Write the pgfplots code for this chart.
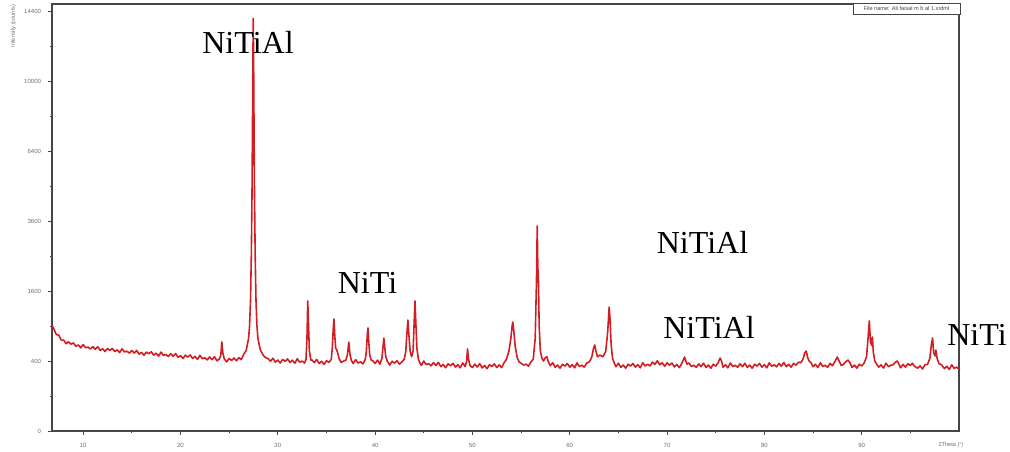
\documentclass[border=0pt]{standalone}
\usepackage{fontspec}
\setsansfont{Liberation Sans}
\newfontfamily\tnr{Liberation Serif}
\usepackage{pgfplots}
\pgfplotsset{compat=1.18}
\definecolor{xrdred}{RGB}{210,30,35}
\definecolor{axgray}{RGB}{70,70,70}
\definecolor{lblgray}{RGB}{110,110,110}

\begin{document}
\begin{tikzpicture}
\useasboundingbox (0,0) rectangle (505pt,225.5pt);
\begin{axis}[
  at={(26pt,10pt)}, anchor=south west,
  scale only axis, width=453.5pt, height=213.5pt,
  xmin=6.8, xmax=100, ymin=0, ymax=14884,
  y coord trafo/.code={\pgfmathparse{sqrt(#1)}},
  y coord inv trafo/.code={\pgfmathparse{(#1)^2}},
  xtick={10,20,...,90}, minor xtick={15,25,...,95},
  ytick={0,400,1600,3600,6400,10000,14400},
  yticklabels={0,400,1600,3600,6400,10000,14400},
  minor ytick={100,900,2500,4900,8100,12100},
  tick pos=left, tick align=outside,
  major tick length=2pt, minor tick length=1pt,
  axis line style={axgray, line width=0.6pt},
  tick style={axgray, line width=0.4pt},
  /pgf/number format/assume math mode=true,
  tick label style={font=\sffamily\fontsize{3}{3}\selectfont, text=lblgray},
  xticklabel style={yshift=-0.5pt},
  scaled ticks=false,
]
\addplot[xrdred, line width=0.8pt, line join=round] coordinates {
(6.8,915)(7.0,848)(7.25,758)(7.5,750)(7.75,675)(8.0,673)(8.25,622)(8.5,649)(8.75,616)(9.0,634)
(9.25,586)(9.5,604)(9.75,564)(10.0,610)(10.25,567)(10.5,575)(10.75,548)(11.0,580)(11.25,546)(11.5,579)
(11.75,530)(12.0,552)(12.25,516)(12.5,555)(12.75,532)(13.0,557)(13.25,515)(13.5,538)(13.75,502)(14.0,551)
(14.25,510)(14.5,520)(14.75,495)(15.0,529)(15.25,496)(15.5,530)(15.75,482)(16.0,505)(16.25,469)(16.5,509)
(16.75,486)(17.0,512)(17.25,470)(17.5,494)(17.75,458)(18.0,508)(18.25,467)(18.5,478)(18.75,453)(19.0,488)
(19.25,455)(19.5,490)(19.75,442)(20.0,465)(20.25,429)(20.5,469)(20.75,446)(21.0,472)(21.25,430)(21.5,454)
(21.75,418)(22.0,468)(22.25,427)(22.5,438)(22.75,413)(23.0,448)(23.25,415)(23.5,450)(23.75,402)(24.0,425)
(24.15,470)(24.25,650)(24.35,500)(24.5,425)(24.75,390)(25.0,429)(25.25,408)(25.5,435)(25.75,403)(26.0,439)
(26.25,416)(26.5,480)(26.75,530)(27.0,700)(27.1,900)(27.2,1400)(27.28,2500)(27.35,4500)(27.4,7500)(27.44,11000)
(27.48,13900)(27.52,11000)(27.56,7500)(27.61,4500)(27.68,2500)(27.76,1400)(27.86,900)(27.96,700)(28.2,540)(28.5,470)
(28.75,440)(29.0,428)(29.25,397)(29.5,433)(29.75,387)(30.0,411)(30.25,377)(30.5,418)(30.75,397)(31.0,424)
(31.25,384)(31.5,409)(31.75,375)(32.0,426)(32.25,387)(32.5,399)(32.75,377)(32.9,420)(33.0,700)(33.08,1380)
(33.16,900)(33.25,520)(33.4,410)(33.5,413)(33.75,382)(34.0,418)(34.25,372)(34.5,396)(34.75,362)(35.0,404)
(35.25,384)(35.5,420)(35.6,560)(35.7,850)(35.77,1024)(35.85,760)(35.95,560)(36.05,540)(36.15,500)(36.3,430)
(36.5,385)(36.75,398)(37.0,410)(37.15,470)(37.3,646)(37.42,480)(37.55,410)(37.75,372)(38.0,416)(38.25,377)
(38.5,390)(38.75,367)(39.0,420)(39.1,520)(39.2,760)(39.27,866)(39.35,650)(39.45,470)(39.6,410)(39.75,403)
(40.0,373)(40.25,410)(40.5,364)(40.7,430)(40.8,560)(40.9,706)(41.0,560)(41.1,450)(41.25,400)(41.5,355)
(41.75,397)(42.0,376)(42.25,404)(42.5,365)(42.75,390)(43.0,420)(43.15,520)(43.28,800)(43.37,1006)(43.46,780)
(43.6,520)(43.75,450)(43.9,520)(44.0,900)(44.1,1380)(44.2,900)(44.3,550)(44.45,420)(44.6,380)(44.75,351)
(45.0,400)(45.25,360)(45.5,371)(45.75,347)(46.0,382)(46.25,350)(46.5,385)(46.75,338)(47.0,361)(47.25,327)
(47.5,368)(47.75,347)(48.0,374)(48.25,334)(48.5,359)(48.75,326)(49.0,378)(49.25,340)(49.4,390)(49.5,549)
(49.6,420)(49.75,350)(50.0,329)(50.25,365)(50.5,334)(50.75,371)(51.0,325)(51.25,350)(51.5,317)(51.75,359)
(52.0,339)(52.25,368)(52.5,329)(52.75,357)(53.0,328)(53.25,380)(53.5,420)(53.75,520)(53.95,700)(54.08,900)
(54.15,970)(54.25,820)(54.4,580)(54.6,440)(54.8,390)(55.0,375)(55.25,355)(55.5,365)(55.75,343)(56.0,388)
(56.25,420)(56.45,700)(56.58,1800)(56.66,3430)(56.72,2200)(56.78,1900)(56.86,900)(56.98,520)(57.15,430)(57.3,400)
(57.5,440)(57.65,450)(57.8,390)(58.0,348)(58.25,380)(58.5,332)(58.75,355)(59.0,322)(59.25,364)(59.5,344)
(59.75,372)(60.0,333)(60.25,359)(60.5,326)(60.75,378)(61.0,340)(61.25,353)(61.5,333)(61.75,378)(62.0,390)
(62.25,440)(62.45,560)(62.57,604)(62.7,520)(62.85,450)(63.1,470)(63.4,450)(63.7,520)(63.9,800)(64.05,1255)
(64.15,1000)(64.25,620)(64.4,430)(64.6,370)(64.75,338)(65.0,375)(65.25,330)(65.5,355)(65.75,322)(66.0,364)
(66.25,344)(66.5,372)(66.75,333)(67.0,359)(67.25,326)(67.5,380)(67.75,345)(68.0,363)(68.25,346)(68.5,388)
(68.75,363)(69.0,403)(69.25,358)(69.5,380)(69.75,342)(70.0,379)(70.25,354)(70.5,377)(70.75,335)(71.0,361)
(71.25,328)(71.5,370)(71.7,420)(71.8,447)(71.9,410)(72.05,365)(72.25,378)(72.5,340)(72.75,353)(73.0,331)
(73.25,368)(73.5,338)(73.75,375)(74.0,330)(74.25,355)(74.5,322)(74.75,364)(75.0,344)(75.25,380)(75.45,435)
(75.6,400)(75.75,333)(76.0,359)(76.25,326)(76.5,378)(76.75,340)(77.0,353)(77.25,331)(77.5,368)(77.75,338)
(78.0,375)(78.25,330)(78.5,355)(78.75,322)(79.0,364)(79.25,344)(79.5,372)(79.75,333)(80.0,359)(80.25,326)
(80.5,380)(80.75,342)(81.0,358)(81.25,336)(81.5,373)(81.75,343)(82.0,383)(82.25,338)(82.5,363)(82.75,332)
(83.0,374)(83.25,354)(83.5,387)(83.75,380)(84.0,430)(84.15,500)(84.3,522)(84.45,440)(84.6,400)(84.8,380)
(85.0,338)(85.25,364)(85.5,328)(85.75,380)(86.0,340)(86.25,353)(86.5,331)(86.75,373)(87.0,348)(87.25,395)
(87.5,447)(87.7,395)(87.9,350)(88.1,360)(88.35,390)(88.6,411)(88.8,380)(89.0,330)(89.25,355)(89.5,322)
(89.75,364)(90.0,346)(90.25,377)(90.5,450)(90.65,700)(90.78,988)(90.9,650)(91.02,600)(91.1,721)(91.2,500)
(91.35,400)(91.5,370)(91.75,333)(92.0,357)(92.25,324)(92.5,376)(92.75,338)(93.0,353)(93.25,360)(93.5,390)
(93.65,400)(93.8,370)(94.0,326)(94.25,363)(94.5,333)(94.75,370)(95.0,350)(95.2,375)(95.4,345)(95.75,322)
(96.0,347)(96.25,314)(96.5,359)(96.75,360)(97.0,430)(97.15,600)(97.28,706)(97.4,500)(97.55,460)(97.62,535)
(97.75,430)(97.95,370)(98.2,357)(98.5,318)(98.75,342)(99.0,309)(99.25,358)(99.5,320)(99.75,333)(100.0,311)
};
\end{axis}
% axis titles and file-name box
\node[rotate=90, font=\sffamily\fontsize{2.8}{3}\selectfont, text=lblgray] at (6.75pt,212.5pt) {Intensity (counts)};
\node[font=\sffamily\fontsize{2.8}{3}\selectfont, text=lblgray] at (475.5pt,3.2pt) {2Theta (°)};
\node[draw=axgray, line width=0.4pt, fill=white, inner sep=0.6pt, minimum width=53.5pt, minimum height=5.5pt,
      font=\sffamily\fontsize{2.8}{3}\selectfont, text=axgray] at (453.25pt,221.25pt) {File name: Ali faisal m b al 1.xrdml};
% phase labels
\begin{scope}[every node/.style={font=\tnr\fontsize{16}{16}\selectfont, anchor=base, inner sep=0pt}]
\node at (124pt,199pt) {NiTiAl};
\node at (183.75pt,79pt) {NiTi};
\node at (351.25pt,99pt) {NiTiAl};
\node at (354.5pt,56.5pt) {NiTiAl};
\node at (488.5pt,53pt) {NiTi};
\end{scope}
\end{tikzpicture}
\end{document}
